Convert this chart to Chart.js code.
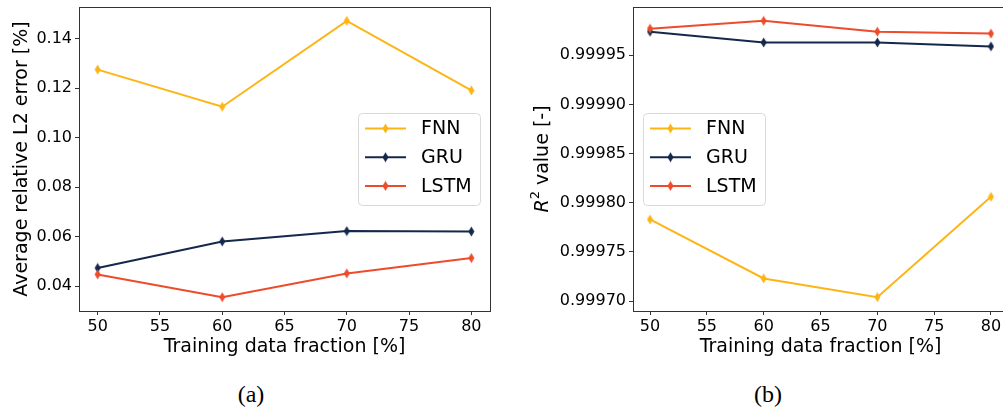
<!DOCTYPE html>
<html lang="en">
<head>
<meta charset="UTF-8" />
<title>Error and R2 vs training data fraction</title>
<script src="https://cdn.jsdelivr.net/npm/chart.js"></script>
<style>
  body { margin: 0; background: #fff; width: 1003px; height: 413px; position: relative; overflow: hidden; }
  .panel { position: absolute; top: 0; height: 360px; overflow: hidden; }
  #panelA { left: 0; width: 500px; }
  #panelB { left: 500px; width: 503px; }
  .caption {
    position: absolute; top: 379px;
    font-family: "Liberation Serif", "Times New Roman", serif;
    font-size: 24px; line-height: 30px; transform: translateX(-50%);
  }
</style>
</head>
<body>
  <div class="panel" id="panelA"><canvas id="chartA" width="500" height="360"></canvas></div>
  <div class="panel" id="panelB"><canvas id="chartB" width="515" height="360"></canvas></div>
  <div class="caption" style="left:251px">(a)</div>
  <div class="caption" style="left:768px">(b)</div>

<script>
// data
const fractions = [50, 60, 70, 80];
const seriesNames = ['FNN', 'GRU', 'LSTM'];

const l2Fnn  = [0.1275, 0.1125, 0.1472, 0.1191];
const l2Gru  = [0.0474, 0.0581, 0.0623, 0.0621];
const l2Lstm = [0.0448, 0.0356, 0.0452, 0.0514];

const r2Fnn  = [0.999783, 0.999723, 0.999704, 0.999806];
const r2Gru  = [0.999974, 0.999963, 0.999963, 0.999959];
const r2Lstm = [0.999977, 0.999985, 0.999974, 0.999972];

const xTicks  = [50, 55, 60, 65, 70, 75, 80];
const l2Ticks = [0.04, 0.06, 0.08, 0.10, 0.12, 0.14];
const r2Ticks = [0.99970, 0.99975, 0.99980, 0.99985, 0.99990, 0.99995];

const colors = ['#fdb515', '#15284b', '#ee4b2b'];
const spine = '#333';
const FONT = "'DejaVu Sans', sans-serif";

// matplotlib-like 5% margins
function padRange(vals) {
  const lo = Math.min(...vals), hi = Math.max(...vals), m = (hi - lo) * 0.05;
  return [lo - m, hi + m];
}

// thin diamond marker ('d' in matplotlib)
function thinDiamond(color) {
  const c = document.createElement('canvas');
  c.width = 7; c.height = 11;
  const g = c.getContext('2d');
  g.fillStyle = color;
  g.beginPath();
  g.moveTo(3.5, 0.5); g.lineTo(6.5, 5.5); g.lineTo(3.5, 10.5); g.lineTo(0.5, 5.5);
  g.closePath(); g.fill();
  return c;
}

function makeDatasets(series) {
  return series.map((vals, i) => ({
    label: seriesNames[i],
    data: fractions.map((f, j) => ({ x: f, y: vals[j] })),
    borderColor: colors[i],
    backgroundColor: colors[i],
    borderWidth: 2,
    pointStyle: thinDiamond(colors[i]),
    pointRadius: 5,
    tension: 0,
    order: series.length - i
  }));
}

const framePlugin = {
  id: 'frame',
  afterDraw(chart) {
    const { ctx, chartArea: a } = chart;
    ctx.save();
    ctx.strokeStyle = spine;
    ctx.lineWidth = 1;
    ctx.strokeRect(Math.round(a.left) + 0.5, Math.round(a.top) + 0.5,
      Math.round(a.right - a.left), Math.round(a.bottom - a.top));
    ctx.restore();
  }
};

const insetLegend = {
  id: 'insetLegend',
  afterDraw(chart, args, opts) {
    if (!opts.side) return;
    const { ctx, chartArea: a } = chart;
    const w = 122, h = 92;
    const x = opts.side === 'right' ? a.right - 10 - w : a.left + 10;
    const y = Math.round((a.top + a.bottom) / 2 - h / 2);
    ctx.save();
    ctx.fillStyle = 'rgba(255,255,255,0.85)';
    ctx.strokeStyle = '#d9d9d9';
    ctx.lineWidth = 1;
    ctx.beginPath();
    ctx.roundRect(Math.round(x) + 0.5, y + 0.5, w, h, 4);
    ctx.fill(); ctx.stroke();
    ctx.font = '19px ' + FONT;
    ctx.textBaseline = 'middle';
    seriesNames.forEach((name, i) => {
      const ry = y + 15.5 + i * 28.7;
      ctx.strokeStyle = colors[i];
      ctx.lineWidth = 2;
      ctx.beginPath(); ctx.moveTo(x + 7, ry); ctx.lineTo(x + 48, ry); ctx.stroke();
      const mk = thinDiamond(colors[i]);
      ctx.drawImage(mk, x + 27.5 - mk.width / 2, ry - mk.height / 2);
      ctx.fillStyle = '#000';
      ctx.fillText(name, x + 63, ry + 1);
    });
    ctx.restore();
  }
};

// italic R with superscript 2 for panel (b)
const r2Title = {
  id: 'r2Title',
  afterDraw(chart, args, opts) {
    if (!opts.x) return;
    const { ctx, chartArea: a } = chart;
    const parts = [
      { t: 'R', f: 'italic 19px ' + FONT, dy: 0 },
      { t: '2', f: '13px ' + FONT, dy: -7 },
      { t: ' value [-]', f: '19px ' + FONT, dy: 0 }
    ];
    ctx.save();
    ctx.translate(opts.x, (a.top + a.bottom) / 2);
    ctx.rotate(-Math.PI / 2);
    ctx.textBaseline = 'middle';
    ctx.fillStyle = '#000';
    let total = 0;
    parts.forEach(p => { ctx.font = p.f; p.w = ctx.measureText(p.t).width; total += p.w; });
    let cx = -total / 2;
    parts.forEach(p => { ctx.font = p.f; ctx.fillText(p.t, cx, p.dy); cx += p.w; });
    ctx.restore();
  }
};

function buildChart(id, series, yTicks, digits, yWidth, yTitle, legendSide, padRight, r2x) {
  const [xMin, xMax] = padRange(fractions);
  const [yMin, yMax] = padRange(series.flat());
  return new Chart(document.getElementById(id), {
    type: 'line',
    data: { datasets: makeDatasets(series) },
    plugins: [framePlugin, insetLegend, r2Title],
    options: {
      responsive: false,
      animation: false,
      layout: { padding: { top: 5, right: padRight, left: 0, bottom: 0 } },
      plugins: {
        legend: { display: false },
        tooltip: { enabled: false },
        insetLegend: { side: legendSide },
        r2Title: { x: r2x }
      },
      scales: {
        x: {
          type: 'linear', min: xMin, max: xMax,
          afterBuildTicks: s => { s.ticks = xTicks.map(v => ({ value: v })); },
          afterFit: s => { s.height = 49; s.paddingLeft = 0; s.paddingRight = 0; },
          grid: { drawOnChartArea: false, drawTicks: true, tickLength: 4, color: spine },
          border: { display: false },
          ticks: { font: { family: FONT, size: 16 }, color: '#000', padding: 2, maxRotation: 0, autoSkip: false,
                   callback: v => String(v) },
          title: { display: true, text: 'Training data fraction [%]', color: '#000',
                   font: { family: FONT, size: 19 }, padding: { top: 0, bottom: 2 } }
        },
        y: {
          type: 'linear', min: yMin, max: yMax,
          afterBuildTicks: s => { s.ticks = yTicks.map(v => ({ value: v })); },
          afterFit: s => { s.width = yWidth; s.paddingTop = 0; s.paddingBottom = 0; },
          grid: { drawOnChartArea: false, drawTicks: true, tickLength: 4, color: spine },
          border: { display: false },
          ticks: { font: { family: FONT, size: 16 }, color: '#000', padding: 3, autoSkip: false,
                   callback: v => v.toFixed(digits) },
          title: { display: !!yTitle, text: yTitle, color: '#000',
                   font: { family: FONT, size: 19 }, padding: { top: 11, bottom: 0 } }
        }
      }
    }
  });
}

buildChart('chartA', [l2Fnn, l2Gru, l2Lstm], l2Ticks, 2, 79, 'Average relative L2 error [%]', 'right', 10, 0);
buildChart('chartB', [r2Fnn, r2Gru, r2Lstm], r2Ticks, 5, 133, '', 'left', 7, 43);
</script>
</body>
</html>
